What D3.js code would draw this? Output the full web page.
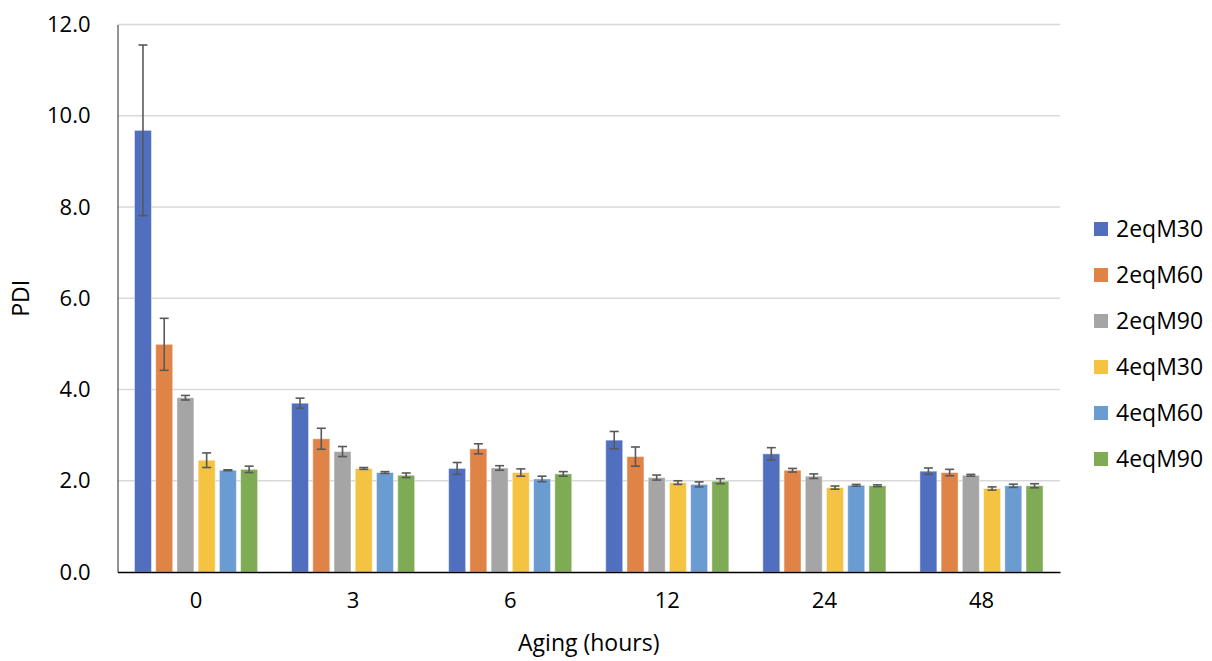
<!DOCTYPE html>
<html>
<head>
<meta charset="utf-8">
<script src="https://cdn.jsdelivr.net/npm/d3@7"></script>
<style>
  body { margin: 0; background: #fff; }
  svg text { font-family: "Open Sans", sans-serif; fill: #000; }
</style>
</head>
<body>
<svg id="chart" width="1212" height="661"></svg>
<script>
// data
const categories = ['0', '3', '6', '12', '24', '48'];
const seriesNames = ['2eqM30', '2eqM60', '2eqM90', '4eqM30', '4eqM60', '4eqM90'];
const colors = ['#5070BF', '#E08347', '#A5A5A5', '#F5C342', '#6A9BD1', '#7FAB55'];

// one array per series, one value per category
const m2eq30 = [9.68, 3.70, 2.27, 2.89, 2.59, 2.21];
const m2eq60 = [4.99, 2.92, 2.70, 2.53, 2.23, 2.18];
const m2eq90 = [3.82, 2.64, 2.28, 2.07, 2.10, 2.12];
const m4eq30 = [2.45, 2.27, 2.18, 1.96, 1.85, 1.83];
const m4eq60 = [2.23, 2.18, 2.04, 1.92, 1.90, 1.89];
const m4eq90 = [2.25, 2.12, 2.15, 1.99, 1.89, 1.89];

// error bar half-lengths
const e2eq30 = [1.87, 0.11, 0.13, 0.19, 0.135, 0.07];
const e2eq60 = [0.57, 0.23, 0.11, 0.21, 0.04, 0.07];
const e2eq90 = [0.05, 0.11, 0.05, 0.055, 0.05, 0.02];
const e4eq30 = [0.16, 0.02, 0.08, 0.04, 0.035, 0.035];
const e4eq60 = [0.01, 0.02, 0.06, 0.055, 0.02, 0.035];
const e4eq90 = [0.07, 0.05, 0.05, 0.055, 0.02, 0.045];

const yTicks = [0, 2, 4, 6, 8, 10, 12];

const values = [m2eq30, m2eq60, m2eq90, m4eq30, m4eq60, m4eq90];
const errors = [e2eq30, e2eq60, e2eq90, e4eq30, e4eq60, e4eq90];

const svg = d3.select('#chart');
const margin = { top: 24.5, right: 152, bottom: 89, left: 117.5 };
const width = +svg.attr('width');
const height = +svg.attr('height');
const innerW = width - margin.left - margin.right;
const innerH = height - margin.top - margin.bottom;

const x0 = d3.scaleBand().domain(categories).range([margin.left, margin.left + innerW]);
const x1 = d3.scaleBand().domain(seriesNames).range([0, x0.bandwidth()])
  .paddingInner(0.2).paddingOuter(0.8);
const y = d3.scaleLinear().domain([0, 12]).range([margin.top + innerH, margin.top]);

// gridlines
svg.append('g')
  .selectAll('line')
  .data(yTicks.slice(1))
  .join('line')
  .attr('x1', margin.left)
  .attr('x2', margin.left + innerW)
  .attr('y1', d => y(d))
  .attr('y2', d => y(d))
  .attr('stroke', '#d9d9d9')
  .attr('stroke-width', 1.3);

// y axis
const yAxis = svg.append('g')
  .attr('transform', 'translate(' + margin.left + ',0)')
  .call(d3.axisLeft(y).tickValues(yTicks).tickFormat(d3.format('.1f')).tickSize(0).tickPadding(27));
yAxis.select('.domain').attr('stroke', '#595959').attr('stroke-width', 1.3);
yAxis.selectAll('text').style('font-size', '22px').attr('fill', '#000');

// bars
const rows = [];
categories.forEach((c, i) => {
  seriesNames.forEach((s, j) => {
    rows.push({ cat: c, ser: s, v: values[j][i], e: errors[j][i], color: colors[j] });
  });
});

svg.append('g')
  .selectAll('rect')
  .data(rows)
  .join('rect')
  .attr('x', d => x0(d.cat) + x1(d.ser))
  .attr('y', d => y(d.v))
  .attr('width', x1.bandwidth())
  .attr('height', d => y(0) - y(d.v))
  .attr('fill', d => d.color)
  .attr('stroke', 'rgba(255,255,255,0.45)')
  .attr('stroke-width', 1);

// error bars
const capW = 4.5;
const eb = svg.append('g')
  .attr('stroke', '#595959')
  .attr('stroke-width', 1.6)
  .selectAll('g')
  .data(rows)
  .join('g')
  .attr('transform', d => 'translate(' + (x0(d.cat) + x1(d.ser) + x1.bandwidth() / 2) + ',0)');
eb.append('line').attr('y1', d => y(d.v + d.e)).attr('y2', d => y(d.v - d.e));
eb.append('line').attr('x1', -capW).attr('x2', capW).attr('y1', d => y(d.v + d.e)).attr('y2', d => y(d.v + d.e));
eb.append('line').attr('x1', -capW).attr('x2', capW).attr('y1', d => y(d.v - d.e)).attr('y2', d => y(d.v - d.e));

// x axis
const xAxis = svg.append('g')
  .attr('transform', 'translate(0,' + y(0) + ')')
  .call(d3.axisBottom(x0).tickSize(0).tickPadding(20));
xAxis.select('.domain').attr('stroke', '#000').attr('stroke-width', 1.5);
xAxis.selectAll('text').style('font-size', '22px').attr('fill', '#000');

// axis titles
svg.append('text')
  .attr('x', margin.left + innerW / 2)
  .attr('y', 651)
  .attr('text-anchor', 'middle')
  .style('font-size', '23px')
  .text('Aging (hours)');

svg.append('text')
  .attr('transform', 'translate(29,' + (margin.top + innerH / 2) + ') rotate(-90)')
  .attr('text-anchor', 'middle')
  .style('font-size', '23px')
  .text('PDI');

// legend
const legend = svg.append('g')
  .selectAll('g')
  .data(seriesNames)
  .join('g')
  .attr('transform', (d, i) => 'translate(1094,' + (229 + i * 46) + ')');
legend.append('rect')
  .attr('x', 0).attr('y', -7)
  .attr('width', 14).attr('height', 14)
  .attr('fill', (d, i) => colors[i]);
legend.append('text')
  .attr('x', 22)
  .attr('dy', '0.36em')
  .style('font-size', '23px')
  .text(d => d);
</script>
</body>
</html>
